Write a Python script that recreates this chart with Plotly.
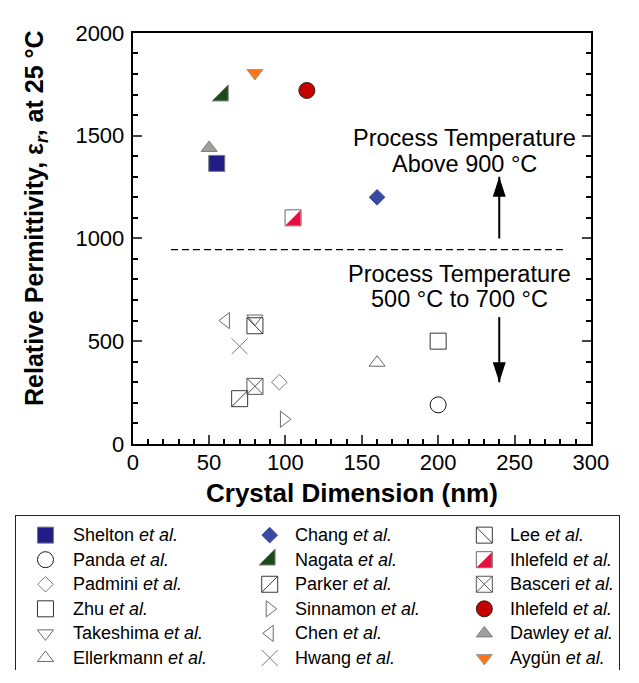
import plotly.graph_objects as go

W, H = 639, 683

# ---------------- data ----------------
studies = ["Shelton", "Panda", "Padmini", "Zhu", "Takeshima", "Ellerkmann",
           "Chang", "Nagata", "Parker", "Sinnamon", "Chen", "Hwang",
           "Lee", "Ihlefeld", "Basceri", "Ihlefeld", "Dawley", "Aygün"]
crystal_nm = [55, 200, 96, 200, 80, 160,
              160, 59, 70, 99, 61, 70,
              80, 105, 80, 114, 50, 80]
permittivity = [1365, 190, 300, 500, 610, 395,
                1200, 1695, 220, 120, 600, 475,
                575, 1100, 280, 1720, 1440, 1805]

boundary_x = [25, 283]
boundary_y = [945, 945]
arrow_x = [240, 240]
up_arrow_y = [1000, 1300]     # tail, head
down_arrow_y = [617, 300]     # tail, head
x_ticks = [0, 50, 100, 150, 200, 250, 300]
y_ticks = [0, 500, 1000, 1500, 2000]

# ---------------- styles ----------------
FONT = "Liberation Sans, Arial, Helvetica, sans-serif"
styles = [
    dict(symbol="square", size=16, color="#211d86", line="#7a7a7a"),          # Shelton
    dict(symbol="circle-open", size=16, color="#151515", line="#151515"),     # Panda
    dict(symbol="diamond-open", size=12, color="#7a7a7a", line="#7a7a7a"),    # Padmini
    dict(symbol="square-open", size=16, color="#333333", line="#333333"),     # Zhu
    dict(symbol="triangle-down-open", size=14, color="#6a6a6a", line="#6a6a6a"),  # Takeshima
    dict(symbol="triangle-up-open", size=14, color="#6a6a6a", line="#6a6a6a"),    # Ellerkmann
    dict(symbol="diamond", size=12, color="#3b4aa0", line="#3b4aa0"),         # Chang
    dict(symbol="triangle-se", size=18, color="#1b4a1b", line="#8a8a8a"),     # Nagata
    dict(symbol="square-open", size=16, color="#3a3a3a", line="#3a3a3a", overlay="line-ne"),  # Parker
    dict(symbol="triangle-right-open", size=14, color="#6a6a6a", line="#6a6a6a"),  # Sinnamon
    dict(symbol="triangle-left-open", size=14, color="#6a6a6a", line="#6a6a6a"),   # Chen
    dict(symbol="x-thin", size=16, color="#7a7a7a", line="#7a7a7a"),          # Hwang
    dict(symbol="square-open", size=16, color="#3a3a3a", line="#3a3a3a", overlay="line-nw"),  # Lee
    dict(symbol="square", size=16, color="#ffffff", line="#6a6a6a", half="#e5103e"),         # Ihlefeld (half)
    dict(symbol="square-x-open", size=16, color="#555555", line="#555555"),   # Basceri
    dict(symbol="circle", size=16, color="#c40000", line="#222222"),          # Ihlefeld (circle)
    dict(symbol="triangle-up", size=14, color="#a19d99", line="#7d7d7d"),     # Dawley
    dict(symbol="triangle-down", size=14, color="#ff7417", line="#9a9a9a"),   # Aygün
]

fig = go.Figure()
shapes = []


def half_fill(xref, yref, xa, ya, color, h=7.5):
    return dict(type="path", xref=xref, yref=yref, xsizemode="pixel", ysizemode="pixel",
                xanchor=xa, yanchor=ya, path=f"M -{h},-{h} L {h},-{h} L {h},{h} Z",
                fillcolor=color, line=dict(width=0), layer="above")


def add_points(xs, ys, st, name, xaxis, yaxis):
    fig.add_trace(go.Scatter(
        x=xs, y=ys, mode="markers", name=name, showlegend=False,
        xaxis=xaxis, yaxis=yaxis, cliponaxis=False,
        marker=dict(symbol=st["symbol"], size=st["size"], color=st["color"],
                    line=dict(color=st["line"], width=1))))
    if "overlay" in st:
        fig.add_trace(go.Scatter(
            x=xs, y=ys, mode="markers", showlegend=False, xaxis=xaxis, yaxis=yaxis,
            cliponaxis=False, hoverinfo="skip",
            marker=dict(symbol=st["overlay"], size=st["size"], color=st["line"],
                        line=dict(color=st["line"], width=1))))
    if "half" in st:
        for xv, yv in zip(xs, ys):
            shapes.append(half_fill(xaxis, yaxis, xv, yv, st["half"]))


# dashed boundary line
fig.add_trace(go.Scatter(x=boundary_x, y=boundary_y, mode="lines", showlegend=False,
                         line=dict(color="black", width=1.3, dash="7px,4px"), hoverinfo="skip"))

# arrows: shaft from tail to head, arrowhead marker at the head
for ys, ang in [(up_arrow_y, 0), (down_arrow_y, 180)]:
    fig.add_trace(go.Scatter(x=arrow_x, y=ys, mode="lines", showlegend=False,
                             line=dict(color="black", width=2), hoverinfo="skip"))
    fig.add_trace(go.Scatter(x=arrow_x[1:], y=ys[1:], mode="markers", showlegend=False,
                             hoverinfo="skip", cliponaxis=False,
                             marker=dict(symbol="arrow", angle=ang, size=21, color="black",
                                         line=dict(width=0))))

# data points
for i, name in enumerate(studies):
    add_points([crystal_nm[i]], [permittivity[i]], styles[i], f"{name} et al.", "x", "y")

# ---------------- manual legend (3 columns, column-major) ----------------
col_icon_x = [41, 274, 497]
col_text_x = [68, 298, 522]
row0, pitch = 543, 25.5
annotations = []
for i, name in enumerate(studies):
    c, r = divmod(i, 6)
    ly = row0 + r * pitch
    add_points([col_icon_x[c]], [ly], styles[i], f"{name} et al.", "x2", "y2")
    annotations.append(dict(xref="x2", yref="y2", x=col_text_x[c], y=ly, xanchor="left",
                            yanchor="middle", showarrow=False,
                            text=f"{name} <i>et al.</i>",
                            font=dict(family=FONT, size=18, color="black")))

# ---------------- annotations in plot ----------------
for txt, xv, yv in [("Process Temperature", 217, 1489), ("Above 900 °C", 217, 1362),
                    ("Process Temperature", 214, 826), ("500 °C to 700 °C", 214, 703)]:
    annotations.append(dict(xref="x", yref="y", x=xv, y=yv, text=txt, showarrow=False,
                            xanchor="center", yanchor="middle",
                            font=dict(family=FONT, size=23.5, color="black")))

# axis titles
annotations.append(dict(xref="paper", yref="paper", x=359 / W, y=1 - 499 / H,
                        text="<b>Crystal Dimension (nm)</b>", showarrow=False,
                        xanchor="center", yanchor="middle",
                        font=dict(family=FONT, size=26, color="black")))
annotations.append(dict(xref="paper", yref="paper", x=31 / W, y=1 - 214 / H,
                        text="<b>Relative Permittivity, ε<sub><i>r</i></sub>, at 25 °C</b>",
                        showarrow=False, textangle=-90, xanchor="center", yanchor="middle",
                        font=dict(family=FONT, size=25, color="black")))

x_dom = [131.7 / W, 607.7 / W]
y_dom = [1 - 448.3 / H, 1 - 21.7 / H]

fig.update_layout(
    width=W, height=H, margin=dict(l=0, r=0, t=0, b=0),
    paper_bgcolor="white", plot_bgcolor="white", showlegend=False,
    font=dict(family=FONT, color="black"),
    xaxis=dict(domain=x_dom, range=[0, 300], tickvals=x_ticks, ticks="inside", ticklen=9,
               tickwidth=1.8, showline=True, linewidth=2, linecolor="black", mirror=True,
               showgrid=False, zeroline=False, tickfont=dict(size=22), ticklabelstandoff=-2,
               minor=dict(dtick=10, ticks="inside", ticklen=5, tickwidth=1.5, tickcolor="black",
                          showgrid=False),
               anchor="y", fixedrange=True),
    yaxis=dict(domain=y_dom, range=[0, 2000], tickvals=y_ticks, ticks="inside", ticklen=9,
               tickwidth=1.8, showline=True, linewidth=2, linecolor="black", mirror="ticks",
               showgrid=False, zeroline=False, tickfont=dict(size=22), ticklabelstandoff=2,
               minor=dict(dtick=100, ticks="inside", ticklen=5, tickwidth=1.5, tickcolor="black",
                          showgrid=False),
               anchor="x", fixedrange=True),
    xaxis2=dict(domain=[10 / W, 637 / W], range=[10, 637], anchor="y2", side="top",
                showline=True, linewidth=1.2, linecolor="#222222", showgrid=False,
                zeroline=False, showticklabels=False, ticks="", fixedrange=True),
    yaxis2=dict(domain=[0, 1 - 522.7 / H], range=[683, 522.7], anchor="x2",
                showline=True, linewidth=1.2, linecolor="#222222", mirror=True, showgrid=False,
                zeroline=False, showticklabels=False, ticks="", fixedrange=True),
    annotations=annotations,
    shapes=shapes,
)

fig.write_html("out.html")
